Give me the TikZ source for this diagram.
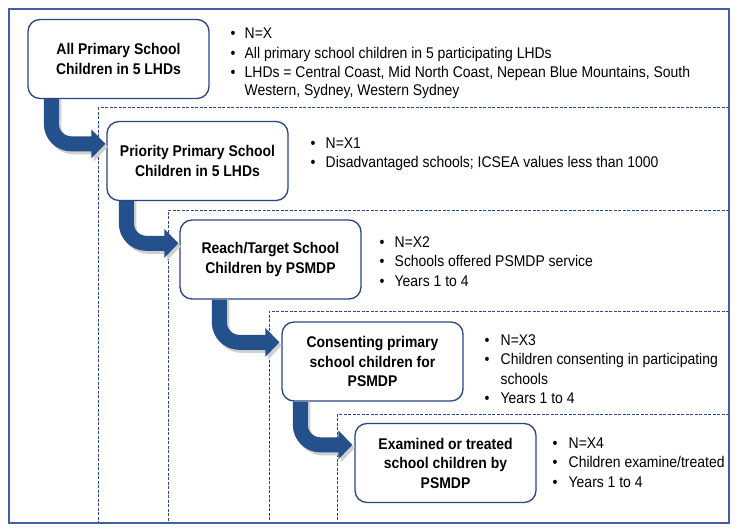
\documentclass[tikz,border=0pt]{standalone}
\usepackage{fontspec}
\setmainfont[FakeStretch=0.9]{Liberation Sans}
\usetikzlibrary{calc}
\definecolor{framecol}{HTML}{4460A4}
\definecolor{dashcol}{HTML}{2B4793}
\definecolor{boxcol}{HTML}{2A4584}
\definecolor{flowcol}{HTML}{24508C}
\definecolor{shadowcol}{HTML}{CFCFCF}
\newcommand\flowarr[2]{%
  \draw[shadowcol, line width=15pt, rounded corners=20pt] ($(#1)+(2.5,0)$) |- ($(#2)+(-11,3)$);
  \fill[shadowcol] ($(#2)+(-11.5,-11.5)$) -- ($(#2)+(2.5,3)$) -- ($(#2)+(-11.5,17.5)$) -- cycle;
  \draw[flowcol, line width=15pt, rounded corners=20pt] (#1) |- ($(#2)+(-13.5,0)$);
  \fill[flowcol] ($(#2)+(-14,-14.5)$) -- (#2) -- ($(#2)+(-14,14.5)$) -- cycle;
}
\begin{document}
\begin{tikzpicture}[x=1pt,y=-1pt,
  stage/.style={draw=boxcol, line width=1.3pt, rounded corners=12pt, fill=white,
    minimum width=181pt, minimum height=79pt, align=center, inner sep=0pt,
    font=\bfseries\fontsize{15.5}{19.5}\selectfont},
  blist/.style={anchor=base west, inner sep=0pt, font=\fontsize{15.5}{19.5}\selectfont},
  dframe/.style={dashcol, line width=1pt, dash pattern=on 3pt off 1.5pt}]
\useasboundingbox (0,0) rectangle (744,532);
\fill[white] (0,0) rectangle (744,532);
% nested frames
\draw[dframe] (729,108) -| (98,523);
\draw[dframe] (729,210) -| (168,523);
\draw[dframe] (729,311) -| (269,523);
\draw[dframe] (729,414) -| (337,523);
\draw[framecol, line width=1.4pt] (9,9) rectangle (729,523);
% stage boxes
\node[stage] (b1) at (118.5,59) {All Primary School\\Children in 5 LHDs};
\node[stage] (b2) at (197.5,161) {Priority Primary School\\Children in 5 LHDs};
\node[stage] (b3) at (270.5,259.5) {Reach/Target School\\Children by PSMDP};
\node[stage] (b4) at (372.5,361.5) {Consenting primary\\school children for\\PSMDP};
\node[stage] (b5) at (445.5,463) {Examined or treated\\school children by\\PSMDP};
% arrow anchors
\coordinate (s1) at ($(b1.south west)+(24,0)$);
\coordinate (t1) at ($(b2.north west)+(-1,23)$);
\coordinate (s2) at ($(b2.south west)+(20,0)$);
\coordinate (t2) at ($(b3.north west)+(-1,24)$);
\coordinate (s3) at ($(b3.south west)+(40,0)$);
\coordinate (t3) at ($(b4.north west)+(-2,21)$);
\coordinate (s4) at ($(b4.south west)+(19,0)$);
\coordinate (t4) at ($(b5.north west)+(-2,22)$);
\flowarr{s1}{t1}
\flowarr{s2}{t2}
\flowarr{s3}{t3}
\flowarr{s4}{t4}
% bullet lists
\node[blist] (l1) at (230.5,39) {\begin{tabular}[t]{@{}p{14pt}@{}l@{}}
\textbullet & N=X\\
\textbullet & All primary school children in 5 participating LHDs\\
\textbullet & LHDs = Central Coast, Mid North Coast, Nepean Blue Mountains, South\\[-1.5pt]
 & Western, Sydney, Western Sydney\end{tabular}};
\node[blist] (l2) at (310.5,148) {\begin{tabular}[t]{@{}p{15pt}@{}l@{}}
\textbullet & N=X1\\
\textbullet & Disadvantaged schools; ICSEA values less than 1000\end{tabular}};
\node[blist] (l3) at (379.5,247) {\begin{tabular}[t]{@{}p{15pt}@{}l@{}}
\textbullet & N=X2\\
\textbullet & Schools offered PSMDP service\\
\textbullet & Years 1 to 4\end{tabular}};
\node[blist] (l4) at (484.5,345) {\begin{tabular}[t]{@{}p{16pt}@{}l@{}}
\textbullet & N=X3\\
\textbullet & Children consenting in participating\\
 & schools\\
\textbullet & Years 1 to 4\end{tabular}};
\node[blist] (l5) at (552.5,448) {\begin{tabular}[t]{@{}p{16pt}@{}l@{}}
\textbullet & N=X4\\
\textbullet & Children examine/treated\\
\textbullet & Years 1 to 4\end{tabular}};
\end{tikzpicture}
\end{document}
